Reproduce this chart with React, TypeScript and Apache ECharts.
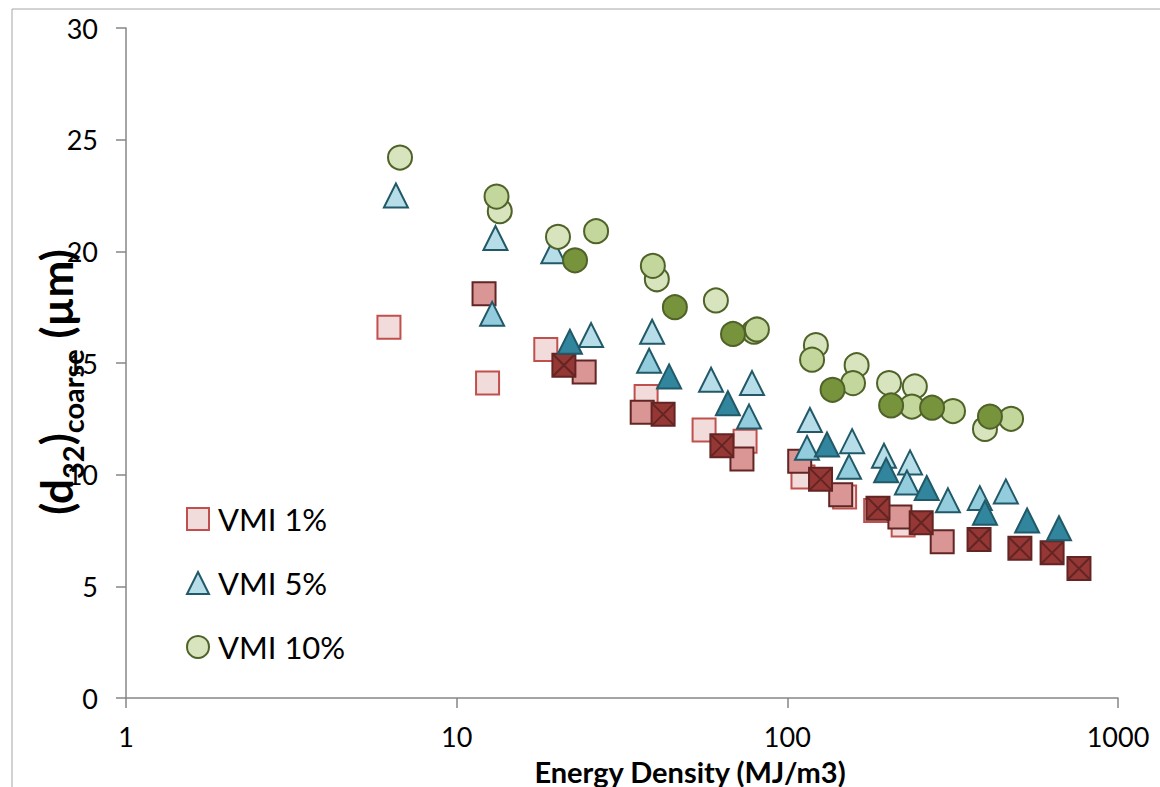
import React, { useEffect, useRef } from "react";
import * as echarts from "echarts";

// Energy density (MJ/m3) vs (d32)coarse (µm)
const vmi1Light: [number, number][] = [
  [6.24, 16.6], [12.4, 14.1], [18.6, 15.6], [37.4, 13.5], [56.0, 12.0],
  [74.5, 11.5], [111.5, 9.9], [149, 9.0], [185, 8.4], [224, 7.75],
];
const vmi1Mid: [number, number][] = [
  [12.1, 18.1], [24.3, 14.6], [36.4, 12.8], [72.9, 10.7], [109, 10.6],
  [145, 9.1], [219, 8.1], [294, 7.0],
];
const vmi1Dark: [number, number][] = [
  [21.1, 14.9], [42.1, 12.7], [63.4, 11.3], [126, 9.8], [188, 8.5],
  [254, 7.85], [380, 7.1], [505, 6.7], [632, 6.5], [762, 5.8],
];
const vmi5Light: [number, number][] = [
  [6.55, 22.5], [13.1, 20.6], [19.6, 20.0], [25.5, 16.25], [39.0, 16.4],
  [58.8, 14.25], [78.2, 14.1], [117, 12.45], [157, 11.5], [196, 10.85], [235, 10.55],
];
const vmi5Mid: [number, number][] = [
  [12.8, 17.2], [38.2, 15.1], [76.6, 12.6], [114.7, 11.2], [153.7, 10.35],
  [230, 9.65], [306, 8.85], [382, 8.95], [458, 9.25],
];
const vmi5Dark: [number, number][] = [
  [22.0, 15.95], [43.9, 14.4], [66.1, 13.2], [131.8, 11.35], [199, 10.2],
  [264, 9.4], [396, 8.3], [531, 7.95], [663, 7.6],
];
const vmi10Light: [number, number][] = [
  [6.74, 24.2], [13.5, 21.8], [20.25, 20.65], [40.3, 18.75], [60.8, 17.8],
  [122, 15.8], [162, 14.9], [203, 14.1], [243, 13.95], [396, 12.05],
];
const vmi10Mid: [number, number][] = [
  [13.2, 22.45], [26.4, 20.9], [39.2, 19.35], [79.3, 16.4], [80.9, 16.5],
  [118.8, 15.15], [158, 14.1], [238, 13.05], [317, 12.85], [475, 12.5],
];
const vmi10Dark: [number, number][] = [
  [22.8, 19.6], [45.7, 17.5], [68.5, 16.3], [137, 13.8], [206, 13.1],
  [274, 13.0], [410, 12.6],
];

const legendNames = ["VMI 1%", "VMI 5%", "VMI 10%"];
const xTitle = "Energy Density (MJ/m3)";

const FONT = "Lato, 'Open Sans', sans-serif";
const AXIS_COLOR = "#868686";
const X_SQUARE = "path://M0,0L20,0L20,20L0,20ZM0,0L20,20M20,0L0,20";

function scatter(name: string, data: [number, number][], symbol: string, size: number, fill: string, stroke: string) {
  return {
    type: "scatter",
    name,
    data,
    symbol,
    symbolSize: size,
    itemStyle: { color: fill, borderColor: stroke, borderWidth: 2, opacity: 1 },
    emphasis: { disabled: true },
  };
}

export default function App() {
  const ref = useRef<HTMLDivElement>(null);
  useEffect(() => {
    const chart = echarts.init(ref.current!, null, { renderer: "svg" });
    const option: any = {
      animation: false,
      backgroundColor: "#ffffff",
      grid: { left: 126, right: 42, top: 28, bottom: 89 },
      xAxis: {
        type: "log",
        logBase: 10,
        min: 1,
        max: 1000,
        axisLine: { show: true, lineStyle: { color: AXIS_COLOR, width: 1.5 } },
        axisTick: { show: true, length: 10, lineStyle: { color: AXIS_COLOR, width: 1.5 } },
        axisLabel: {
          fontSize: 27,
          color: "#000",
          fontFamily: FONT,
          margin: 25,
          formatter: (v: number) => String(Math.round(v)),
        },
        splitLine: { show: false },
        minorTick: { show: false },
      },
      yAxis: {
        type: "value",
        min: 0,
        max: 30,
        interval: 5,
        axisLine: { show: true, lineStyle: { color: AXIS_COLOR, width: 1.5 } },
        axisTick: { show: true, length: 10, lineStyle: { color: AXIS_COLOR, width: 1.5 } },
        axisLabel: { fontSize: 27, color: "#000", fontFamily: FONT, margin: 28 },
        splitLine: { show: false },
      },
      legend: {
        data: legendNames,
        orient: "vertical",
        left: 186,
        top: 502,
        padding: 0,
        itemWidth: 22,
        itemHeight: 22,
        itemGap: 30,
        textStyle: { fontSize: 31, fontFamily: FONT, color: "#000", lineHeight: 34, padding: [0, 0, 0, 4] },
      },
      graphic: [
        {
          type: "rect",
          shape: { x: 12, y: 9, width: 1300, height: 1000 },
          style: { fill: "none", stroke: "#a6a6a6", lineWidth: 1 },
          silent: true,
        },
        {
          type: "text",
          x: 690,
          y: 771,
          style: {
            text: xTitle,
            font: `bold 29px ${FONT}`,
            fill: "#000",
            align: "center",
            verticalAlign: "middle",
          },
        },
        {
          type: "text",
          x: 57,
          y: 382,
          rotation: Math.PI / 2,
          style: {
            text: "{a|(d}{s|32}{a|)}{s|coarse}{a| (µm)}",
            align: "center",
            verticalAlign: "middle",
            rich: {
              a: { fontSize: 44, fontWeight: "bold", fontFamily: FONT, fill: "#000", lineHeight: 46, verticalAlign: "top" },
              s: { fontSize: 29, fontWeight: "bold", fontFamily: FONT, fill: "#000", lineHeight: 29, verticalAlign: "top", padding: [24, 0, 0, 0] },
            },
          },
        },
      ],
      series: [
        scatter("VMI 1%", vmi1Light, "rect", 23, "#f2dcdb", "#c0504d"),
        scatter("VMI 1% b", vmi1Mid, "rect", 23, "#d99694", "#632523"),
        scatter("VMI 1% c", vmi1Dark, X_SQUARE, 23, "#953735", "#632523"),
        scatter("VMI 5%", vmi5Light, "triangle", 24, "#b7dee8", "#215968"),
        scatter("VMI 5% b", vmi5Mid, "triangle", 24, "#93cddd", "#215968"),
        scatter("VMI 5% c", vmi5Dark, "triangle", 24, "#31859c", "#215968"),
        scatter("VMI 10%", vmi10Light, "circle", 24, "#d7e4bd", "#4f6228"),
        scatter("VMI 10% b", vmi10Mid, "circle", 24, "#c3d69b", "#4f6228"),
        scatter("VMI 10% c", vmi10Dark, "circle", 24, "#77933c", "#4f6228"),
      ],
    };
    chart.setOption(option);
    return () => chart.dispose();
  }, []);
  return (
    <div
      ref={ref}
      style={{ position: "fixed", left: 0, top: 0, width: 1160, height: 787, background: "#fff" }}
    />
  );
}
